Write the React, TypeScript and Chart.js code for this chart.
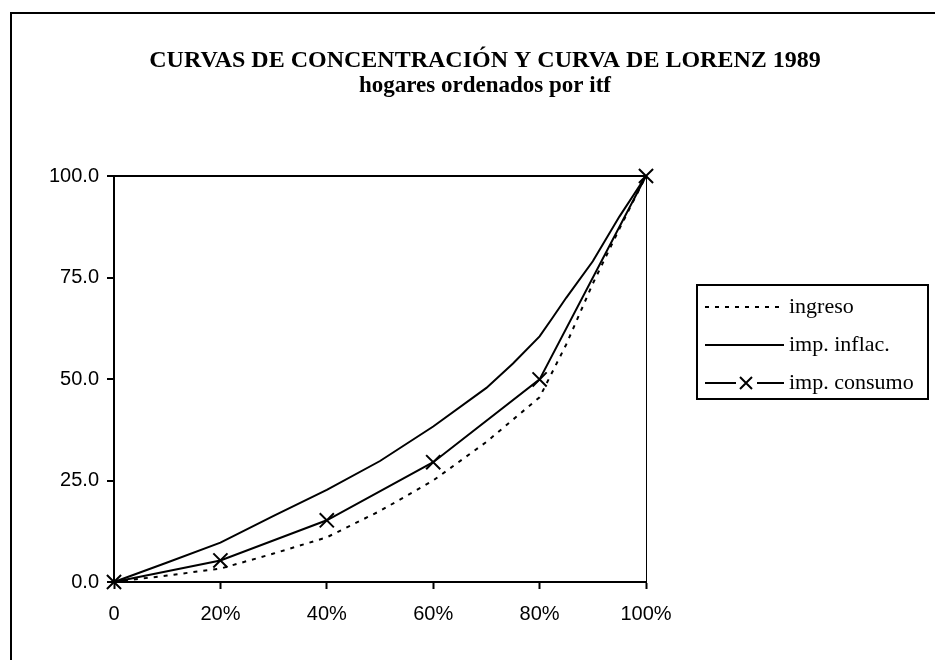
import React, { useEffect, useRef } from "react";
import { Chart, registerables } from "chart.js";

Chart.register(...registerables);

const TITLE = "CURVAS DE CONCENTRACIÓN Y CURVA DE LORENZ 1989";
const SUBTITLE = "hogares ordenados por itf";
const SERIES_LABELS = ["ingreso", "imp. inflac.", "imp. consumo"];

// % of households (x) and cumulative % (y)
const INGRESO_X = [0, 10, 20, 30, 40, 50, 60, 70, 80, 85, 90, 95, 100];
const INGRESO_Y = [0, 1.6, 3.3, 7.0, 11.0, 17.5, 25.0, 34.5, 45.5, 58.5, 73.5, 87.0, 100];

const INFLAC_X = [0, 10, 20, 30, 40, 50, 60, 70, 75, 80, 82.5, 85, 90, 95, 100];
const INFLAC_Y = [0, 4.8, 9.7, 16.3, 22.7, 29.8, 38.3, 47.8, 53.8, 60.5, 65.2, 70.0, 79.0, 90.0, 100];

const CONSUMO_X = [0, 20, 40, 60, 80, 100];
const CONSUMO_Y = [0, 5.3, 15.2, 29.5, 49.9, 100];

const X_TICKS = [0, 20, 40, 60, 80, 100];
const Y_TICKS = [0, 25, 50, 75, 100];

const SANS = "'Liberation Sans', Arial, sans-serif";
const SERIF = "'Liberation Serif', 'Times New Roman', serif";

function toPoints(xs: number[], ys: number[]) {
  return xs.map((x, i) => ({ x, y: ys[i] }));
}

const framePlugin = {
  id: "frame",
  beforeDraw(chart: any) {
    const { ctx, width, height } = chart;
    ctx.save();
    ctx.fillStyle = "#fff";
    ctx.fillRect(0, 0, width, height);
    ctx.strokeStyle = "#000";
    ctx.lineWidth = 2;
    ctx.beginPath();
    ctx.moveTo(11, height + 5);
    ctx.lineTo(11, 13);
    ctx.lineTo(width + 5, 13);
    ctx.stroke();
    ctx.restore();
  },
};

const boxLegendPlugin = {
  id: "boxLegend",
  afterDraw(chart: any) {
    const { ctx, chartArea } = chart;
    const left = chartArea.right + 51;
    const top = chartArea.top + 109;
    const w = 231;
    const h = 114;
    ctx.save();
    ctx.strokeStyle = "#000";
    ctx.lineWidth = 2;
    ctx.setLineDash([]);
    ctx.strokeRect(left, top, w, h);
    ctx.font = `22px ${SERIF}`;
    ctx.textBaseline = "middle";
    ctx.textAlign = "left";
    ctx.fillStyle = "#000";
    chart.data.datasets.forEach((ds: any, i: number) => {
      const y = top + 22 + i * 38;
      const x0 = left + 8;
      const x1 = left + 87;
      ctx.strokeStyle = ds.borderColor;
      ctx.lineWidth = ds.borderWidth;
      ctx.setLineDash(ds.borderDash || []);
      ctx.beginPath();
      if (ds.pointRadius > 0) {
        const cx = left + 49;
        ctx.moveTo(x0, y);
        ctx.lineTo(cx - 10, y);
        ctx.moveTo(cx + 11, y);
        ctx.lineTo(x1, y);
        ctx.stroke();
        ctx.setLineDash([]);
        ctx.lineWidth = 2;
        ctx.beginPath();
        ctx.moveTo(cx - 6, y - 6);
        ctx.lineTo(cx + 6, y + 6);
        ctx.moveTo(cx + 6, y - 6);
        ctx.lineTo(cx - 6, y + 6);
        ctx.stroke();
      } else {
        ctx.moveTo(x0, y);
        ctx.lineTo(x1, y);
        ctx.stroke();
      }
      ctx.fillText(ds.label, left + 92, y);
    });
    ctx.restore();
  },
};

export default function App() {
  const ref = useRef<HTMLCanvasElement>(null);

  useEffect(() => {
    const canvas = ref.current;
    if (!canvas) return;
    const chart = new Chart(canvas, {
      type: "line",
      data: {
        datasets: [
          {
            label: SERIES_LABELS[0],
            data: toPoints(INGRESO_X, INGRESO_Y),
            borderColor: "#000",
            borderWidth: 2,
            borderDash: [4, 6],
            pointRadius: 0,
            tension: 0,
            clip: false as any,
          },
          {
            label: SERIES_LABELS[1],
            data: toPoints(INFLAC_X, INFLAC_Y),
            borderColor: "#000",
            borderWidth: 2,
            pointRadius: 0,
            tension: 0,
            clip: false as any,
          },
          {
            label: SERIES_LABELS[2],
            data: toPoints(CONSUMO_X, CONSUMO_Y),
            borderColor: "#000",
            borderWidth: 2,
            pointStyle: "crossRot",
            pointRadius: 10,
            pointBorderWidth: 2,
            pointBorderColor: "#000",
            pointBackgroundColor: "#000",
            tension: 0,
            clip: false as any,
          },
        ],
      },
      options: {
        responsive: false,
        maintainAspectRatio: false,
        animation: false,
        events: [],
        layout: { padding: { left: 35, right: 0, top: 0, bottom: 0 } },
        plugins: {
          legend: { display: false },
          tooltip: { enabled: false },
          title: {
            display: true,
            text: TITLE,
            color: "#000",
            font: { family: SERIF, size: 24, weight: "bold", lineHeight: 1 },
            padding: { top: 49, bottom: 0 },
          },
          subtitle: {
            display: true,
            text: SUBTITLE,
            color: "#000",
            font: { family: SERIF, size: 23, weight: "bold", lineHeight: 1 },
            padding: { top: 2, bottom: 78 },
          },
        },
        scales: {
          x: {
            type: "linear",
            min: 0,
            max: 100,
            afterBuildTicks: (s: any) => {
              s.ticks = X_TICKS.map((v) => ({ value: v }));
            },
            afterFit: (s: any) => {
              s.height = 78;
            },
            ticks: {
              autoSkip: false,
              maxRotation: 0,
              padding: 13,
              color: "#000",
              font: { family: SANS, size: 20 },
              callback: (v: any) => (Number(v) === 0 ? "0" : `${v}%`),
            },
            grid: {
              drawOnChartArea: false,
              color: "#000",
              tickColor: "#000",
              tickLength: 7,
              tickWidth: 2,
            },
            border: { display: true, color: "#000", width: 2 },
          },
          y: {
            type: "linear",
            min: 0,
            max: 100,
            afterBuildTicks: (s: any) => {
              s.ticks = Y_TICKS.map((v) => ({ value: v }));
            },
            afterFit: (s: any) => {
              s.width = 79;
            },
            ticks: {
              padding: 8,
              color: "#000",
              font: { family: SANS, size: 20 },
              callback: (v: any) => Number(v).toFixed(1),
            },
            grid: {
              color: (c: any) => (c.tick && c.tick.value === 100 ? "#000" : "rgba(0,0,0,0)"),
              lineWidth: 2,
              tickColor: "#000",
              tickLength: 7,
              tickWidth: 2,
            },
            border: { display: true, color: "#000", width: 2 },
          },
          yR: {
            type: "linear",
            position: "right",
            min: 0,
            max: 100,
            afterFit: (s: any) => {
              s.width = 289;
            },
            ticks: { display: false },
            grid: { display: false, drawTicks: false },
            border: { display: true, color: "#000", width: 1 },
          },
        },
      },
      plugins: [framePlugin, boxLegendPlugin],
    } as any);
    return () => chart.destroy();
  }, []);

  return (
    <div
      style={{
        position: "fixed",
        left: 0,
        top: 0,
        width: 935,
        height: 660,
        overflow: "hidden",
        background: "#fff",
      }}
    >
      <canvas ref={ref} width={935} height={660} style={{ display: "block", width: 935, height: 660 }} />
    </div>
  );
}
